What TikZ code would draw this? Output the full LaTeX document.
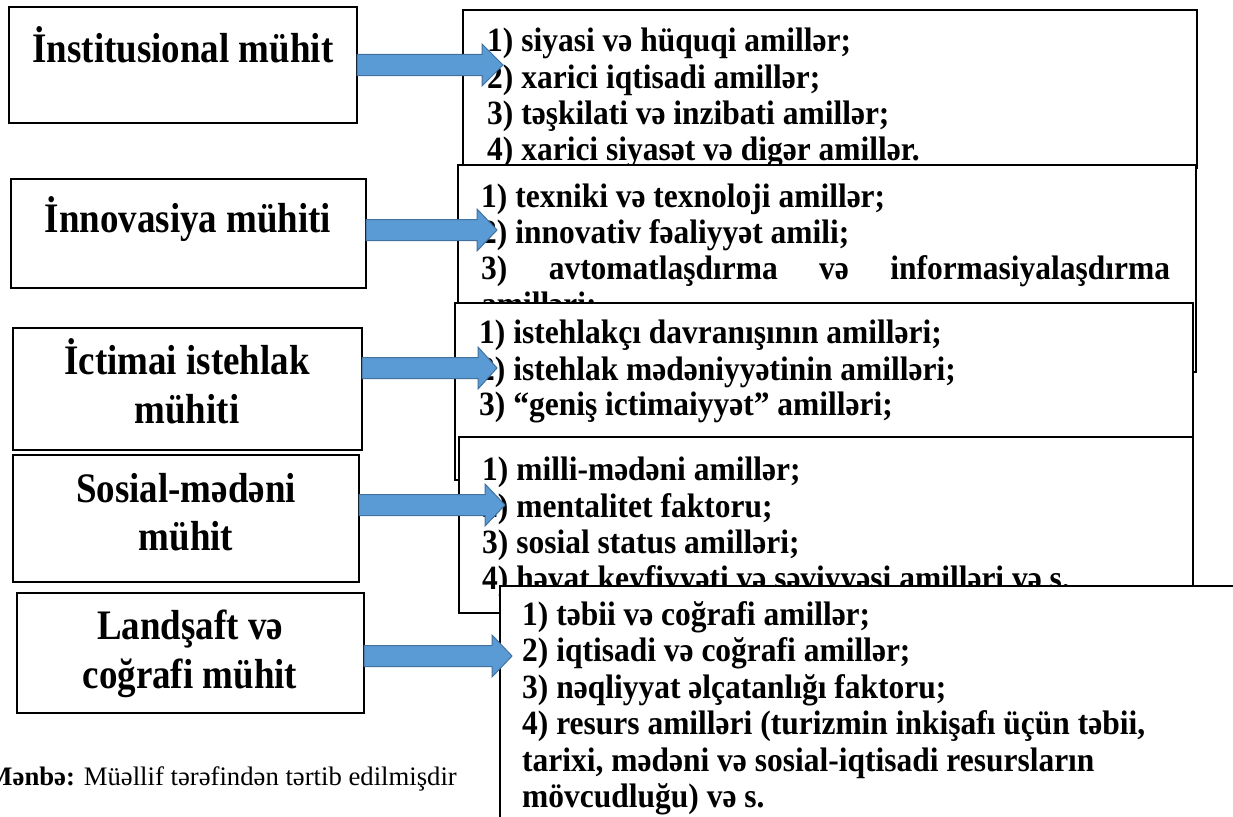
\documentclass[tikz,border=0pt]{standalone}
\usepackage{graphicx}
\usepackage{fontspec}
\setmainfont{Liberation Serif}
\usetikzlibrary{calc}
\definecolor{arrfill}{HTML}{5B9BD5}
\definecolor{arrline}{HTML}{41719C}
\tikzset{
  box/.style={draw=black, line width=2.6pt, fill=white, inner sep=0pt, outer sep=0pt, anchor=north west},
  ltxt/.style={font=\fontsize{42}{46}\selectfont\bfseries, inner sep=0pt, anchor=base},
  rtxt/.style={font=\fontsize{34}{38}\selectfont\bfseries, inner sep=0pt, anchor=base west},
  blockarrow/.style={fill=arrfill, draw=arrline, line width=1pt, line join=miter}
}
\newcommand{\rtx}[1]{\scalebox{0.926}[1]{#1}}
\newcommand{\ltx}[1]{\scalebox{0.88}[1]{#1}}
\newcommand{\barrow}[3]{%
  \draw[blockarrow] ($(#1)+(0,-10.5)$) -- ($(#2)+(-#3,-10.5)$) -- ($(#2)+(-#3,-21)$) -- (#2)
    -- ($(#2)+(-#3,21)$) -- ($(#2)+(-#3,10.5)$) -- ($(#1)+(0,10.5)$) -- cycle;}
\begin{document}
\begin{tikzpicture}[x=1pt,y=-1pt]
\useasboundingbox (0,0) rectangle (1233,816);
\clip (0,0) rectangle (1233,816);
\fill[white] (0,0) rectangle (1233,816);
% left boxes
\node[box, minimum width=348, minimum height=116] (L1) at (9,7) {};
\node[box, minimum width=355, minimum height=109] (L2) at (11,179) {};
\node[box, minimum width=349, minimum height=122] (L3) at (13,328) {};
\node[box, minimum width=346, minimum height=127] (L4) at (13,455) {};
\node[box, minimum width=347, minimum height=120] (L5) at (17,593) {};
\node[ltxt] (L1a) at (183,63) {\ltx{İnstitusional mühit}};
\node[ltxt] (L2a) at (188,232) {\ltx{İnnovasiya mühiti}};
\node[ltxt] (L3a) at (187,374) {\ltx{İctimai istehlak}};
\node[ltxt] (L3b) at (187,423) {\ltx{mühiti}};
\node[ltxt] (L4a) at (186,502) {\ltx{Sosial-mədəni}};
\node[ltxt] (L4b) at (186,550) {\ltx{mühit}};
\node[ltxt] (L5a) at (190,639) {\ltx{Landşaft və}};
\node[ltxt] (L5b) at (190,688) {\ltx{coğrafi mühit}};
% right boxes
\node[box, minimum width=734, minimum height=158] (A) at (463,10) {};
\node[rtxt] (A1) at (487,52) {\rtx{1) siyasi və hüquqi amillər;}};
\node[rtxt] (A2) at (487,88) {\rtx{2) xarici iqtisadi amillər;}};
\node[rtxt] (A3) at (487,124) {\rtx{3) təşkilati və inzibati amillər;}};
\node[rtxt] (A4) at (487,160) {\rtx{4) xarici siyasət və digər amillər.}};
\node[box, minimum width=738, minimum height=207] (B) at (458,165) {};
\node[rtxt] (B1) at (481,207) {\rtx{1) texniki və texnoloji amillər;}};
\node[rtxt] (B2) at (481,243) {\rtx{2) innovativ fəaliyyət amili;}};
\node[rtxt] (B3) at (481,279) {\rtx{\makebox[744pt][s]{3) avtomatlaşdırma və informasiyalaşdırma}}};
\node[rtxt] (B4) at (481,315) {\rtx{amilləri;}};
\node[box, minimum width=738, minimum height=177] (C) at (455,303) {};
\node[rtxt] (C1) at (479,343) {\rtx{1) istehlakçı davranışının amilləri;}};
\node[rtxt] (C2) at (479,380) {\rtx{2) istehlak mədəniyyətinin amilləri;}};
\node[rtxt] (C3) at (479,415) {\rtx{3) “geniş ictimaiyyət” amilləri;}};
\node[box, minimum width=734, minimum height=176] (D) at (459,437) {};
\node[rtxt] (D1) at (482,480) {\rtx{1) milli-mədəni amillər;}};
\node[rtxt] (D2) at (482,517) {\rtx{2) mentalitet faktoru;}};
\node[rtxt] (D3) at (482,553) {\rtx{3) sosial status amilləri;}};
\node[rtxt] (D4) at (482,589) {\rtx{4) həyat keyfiyyəti və səviyyəsi amilləri və s.}};
\node[box, minimum width=740, minimum height=240] (E) at (500,586) {};
\node[rtxt] (E1) at (522,625) {\rtx{1) təbii və coğrafi amillər;}};
\node[rtxt] (E2) at (522,661.5) {\rtx{2) iqtisadi və coğrafi amillər;}};
\node[rtxt] (E3) at (522,698) {\rtx{3) nəqliyyat əlçatanlığı faktoru;}};
\node[rtxt] (E4) at (522,734.5) {\rtx{4) resurs amilləri (turizmin inkişafı üçün təbii,}};
\node[rtxt] (E5) at (522,771) {\rtx{tarixi, mədəni və sosial-iqtisadi resursların}};
\node[rtxt] (E6) at (522,807.5) {\rtx{mövcudluğu) və s.}};
% source
\node[font=\fontsize{26.7}{30}\selectfont, inner sep=0pt, anchor=base east] (src) at (457,785) {\textbf{Mənbə:} Müəllif tərəfindən tərtib edilmişdir};
% arrows
\coordinate (a1s) at (L1.east |- 0,65);  \coordinate (a1t) at (503,65);
\coordinate (a2s) at (L2.east |- 0,230); \coordinate (a2t) at (497,230);
\coordinate (a3s) at (L3.east |- 0,368); \coordinate (a3t) at (497,368);
\coordinate (a4s) at (L4.east |- 0,505); \coordinate (a4t) at (505,505);
\coordinate (a5s) at (L5.east |- 0,656); \coordinate (a5t) at (512,656);
\barrow{a1s}{a1t}{21}
\barrow{a2s}{a2t}{20}
\barrow{a3s}{a3t}{19}
\barrow{a4s}{a4t}{20}
\barrow{a5s}{a5t}{20}
\end{tikzpicture}
\end{document}
